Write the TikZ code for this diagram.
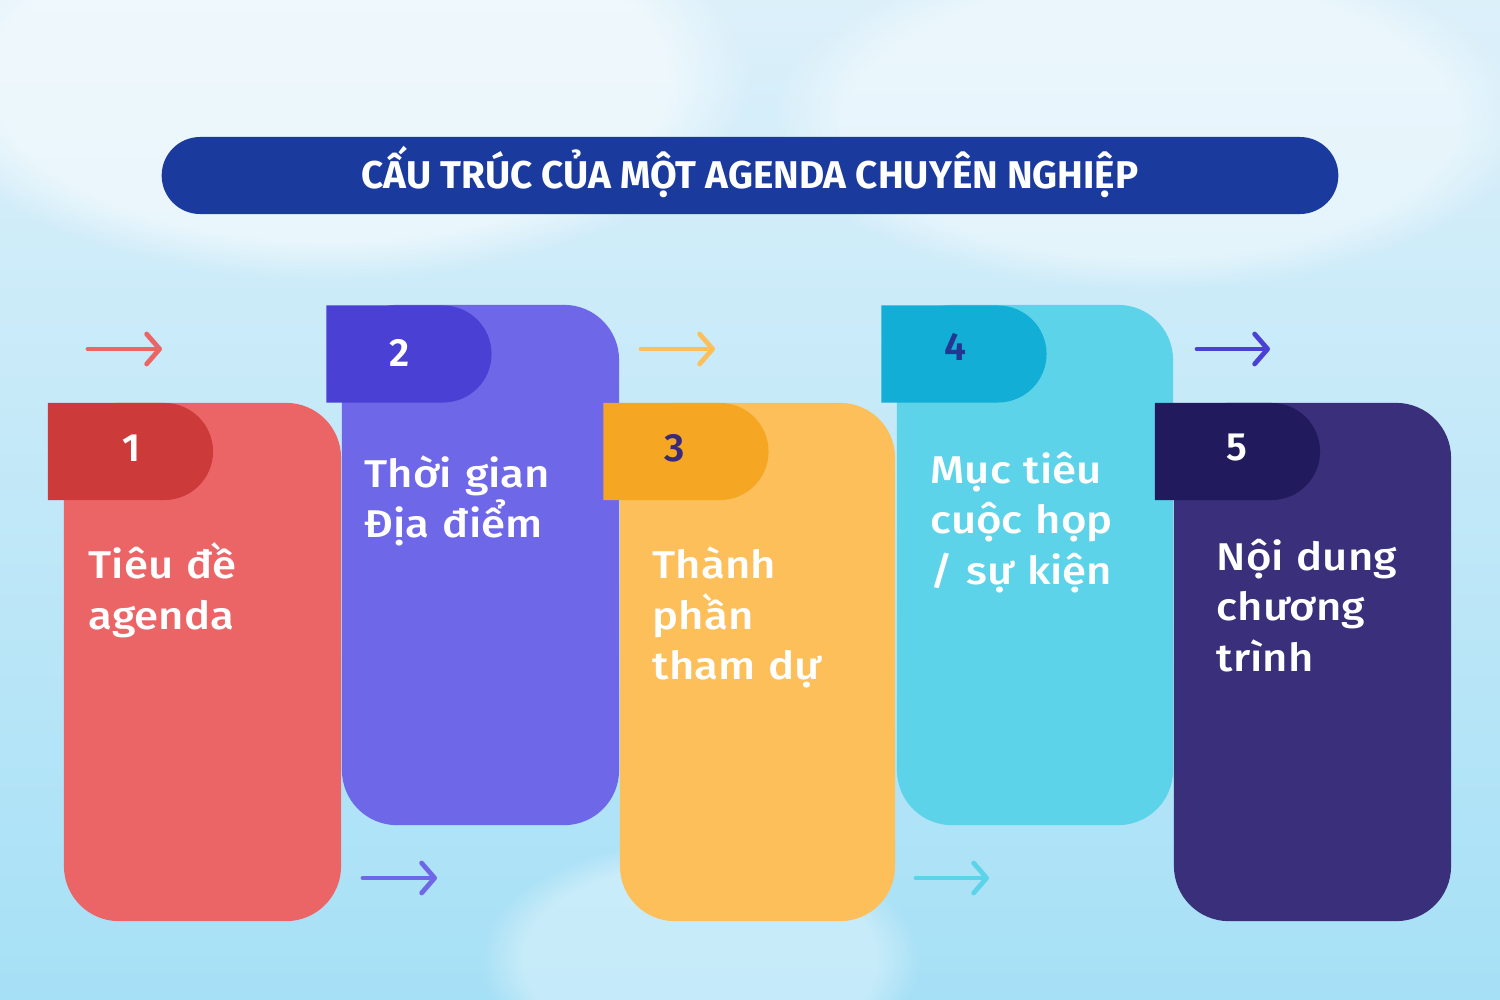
\documentclass[tikz,border=0pt]{standalone}
\usepackage{fontspec}
\setmainfont[FakeStretch=1.13]{Fira Sans Medium}
\newfontfamily\titlefont{Fira Sans Bold}
\newfontfamily\numfont{Fira Sans SemiBold}
\usetikzlibrary{shapes.misc,arrows.meta,fadings}

\definecolor{skytop}{HTML}{DCF0FA}
\definecolor{skybot}{HTML}{A6E0F6}
\definecolor{titleblue}{HTML}{1A3A9E}
\definecolor{redbody}{HTML}{EC6566}
\definecolor{redtab}{HTML}{CC3A3A}
\definecolor{violetbody}{HTML}{6E67E8}
\definecolor{violettab}{HTML}{4B40D4}
\definecolor{amberbody}{HTML}{FDBF5A}
\definecolor{ambertab}{HTML}{F5A623}
\definecolor{cyanbody}{HTML}{5DD3EA}
\definecolor{cyantab}{HTML}{12AED6}
\definecolor{navybody}{HTML}{3A2F7A}
\definecolor{navytab}{HTML}{211A5C}
\definecolor{numthree}{HTML}{3A2A7A}
\definecolor{numfour}{HTML}{263592}

\begin{document}
\begin{tikzpicture}[x=0.01cm,y=-0.01cm]

    \tikzset{card/.style={%
      rectangle,%
      rounded corners=0.55cm,%
      inner sep=0pt,%
      minimum width=2.77cm,%
      minimum height=5.18cm}%
    };
    \tikzset{tab/.style={%
      rounded rectangle,%
      rounded rectangle left arc=none,%
      inner sep=0pt,%
      minimum width=1.65cm,%
      minimum height=0.97cm}%
    };
    \tikzset{num/.style={font=\numfont\fontsize{11.2}{13}\selectfont, text=white}};
    \tikzset{label/.style={%
      anchor=base west,%
      inner sep=0pt,%
      text width=3.4cm,%
      align=left,%
      text=white,%
      font=\fontsize{11}{14.5}\selectfont}%
    };
    \tikzset{flow/.style={%
      line width=1.35pt,%
      line cap=round,%
      -{Straight Barb[length=0.13cm,width=0.3cm,round]}}%
    };
    \tikzset{cloud/.style={white, path fading=circle with fuzzy edge 20 percent}};

    %%%%%%%%%%%%%%
    % background %
    %%%%%%%%%%%%%%
    \useasboundingbox (0,0) rectangle (1500,1000);
    \clip (0,0) rectangle (1500,1000);
    \shade[top color=skytop, bottom color=skybot] (0,0) rectangle (1500,1000);
    \fill[cloud, opacity=0.55] (330,80) ellipse [x radius=420, y radius=200];
    \fill[cloud, opacity=0.45] (1150,120) ellipse [x radius=380, y radius=170];
    \fill[cloud, opacity=0.35] (700,960) ellipse [x radius=220, y radius=120];

    %%%%%%%%%
    % title %
    %%%%%%%%%
    \path (750, 175.5) node [rounded rectangle, fill=titleblue, inner sep=0pt,
      minimum width=11.76cm, minimum height=0.77cm] (title) {};
    \path (750, 172) node [text=white, font=\titlefont\fontsize{11}{13}\selectfont] (titletext)
      {CẤU TRÚC CỦA MỘT AGENDA CHUYÊN NGHIỆP};

    %%%%%%%%%
    % cards %
    %%%%%%%%%
    \path (202.5, 662) node [card, fill=redbody] (c1) {};
    \path (130.5, 451.5) node [tab, fill=redtab] (t1) {};
    \path (131, 448) node [num] (n1) {1};
    \path (88, 578) node [label] (l1) {Tiêu đề\\agenda};

    \path (480.5, 565) node [card, fill=violetbody, minimum height=5.2cm] (c2) {};
    \path (409, 354) node [tab, fill=violettab] (t2) {};
    \path (400, 353) node [num] (n2) {2};
    \path (364, 487) node [label] (l2) {Thời gian\\Địa điểm};

    \path (757.5, 662) node [card, fill=amberbody, minimum width=2.75cm] (c3) {};
    \path (686, 451.5) node [tab, fill=ambertab] (t3) {};
    \path (675, 448) node [num, text=numthree] (n3) {3};
    \path (652, 578) node [label] (l3) {Thành\\phần\\tham dự};

    \path (1035, 565) node [card, fill=cyanbody, minimum width=2.76cm, minimum height=5.2cm] (c4) {};
    \path (964, 354) node [tab, fill=cyantab] (t4) {};
    \path (955, 347) node [num, text=numfour] (n4) {4};
    \path (930, 483) node [label] (l4) {Mục tiêu\\cuộc họp\\/ sự kiện};

    \path (1312.5, 662) node [card, fill=navybody] (c5) {};
    \path (1237.5, 451.5) node [tab, fill=navytab] (t5) {};
    \path (1237, 448) node [num] (n5) {5};
    \path (1216, 570) node [label] (l5) {Nội dung\\chương\\trình};

    %%%%%%%%%%
    % arrows %
    %%%%%%%%%%
    \coordinate (a1s) at (88, 349);   \coordinate (a1e) at (162, 349);
    \coordinate (a2s) at (363, 878);  \coordinate (a2e) at (437, 878);
    \coordinate (a3s) at (641, 349);  \coordinate (a3e) at (715, 349);
    \coordinate (a4s) at (916, 878);  \coordinate (a4e) at (989, 878);
    \coordinate (a5s) at (1197, 349); \coordinate (a5e) at (1270, 349);

    \draw [flow, draw=redbody] (a1s) -- (a1e);
    \draw [flow, draw=violetbody] (a2s) -- (a2e);
    \draw [flow, draw=amberbody] (a3s) -- (a3e);
    \draw [flow, draw=cyanbody] (a4s) -- (a4e);
    \draw [flow, draw=violettab] (a5s) -- (a5e);

  \end{tikzpicture}
\end{document}
